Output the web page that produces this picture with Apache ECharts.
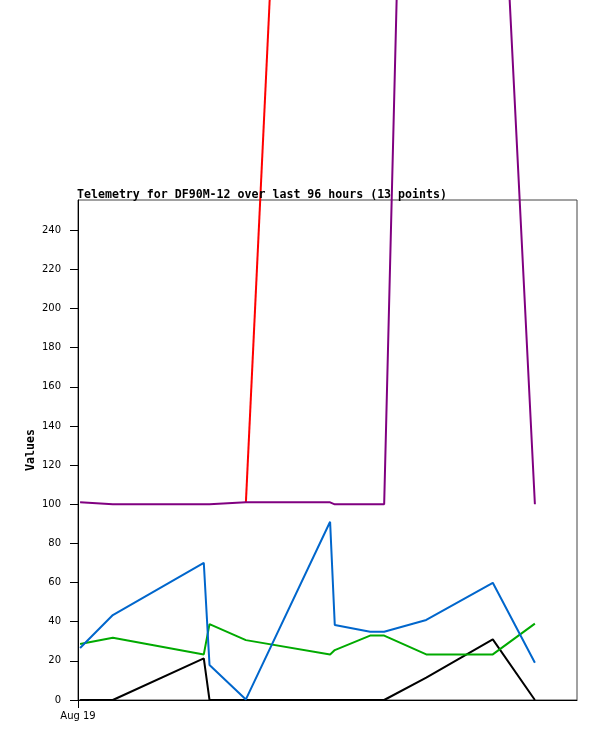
<!DOCTYPE html>
<html>
<head>
<meta charset="utf-8">
<script src="https://cdn.jsdelivr.net/npm/echarts@6/dist/echarts.min.js"></script>
<style>
html,body{margin:0;padding:0;background:#fff;}
#chart{width:597px;height:741px;}
</style>
</head>
<body>
<div id="chart"></div>
<script>
// hours since start of window (Aug 19)
var hours = [0.4, 6.7, 24.2, 25.3, 32.3, 48.5, 49.4, 56.2, 58.9, 67.0, 79.8, 87.9];
var blackValues  = [0, 0, 21.3, 0, 0, 0, 0, 0, 0, 11.4, 31.0, 0];
var greenValues  = [28.6, 31.8, 23.3, 38.8, 30.6, 23.3, 25.5, 32.9, 32.9, 23.3, 23.3, 39.0];
var blueValues   = [26.6, 43.4, 70.1, 17.9, 0.3, 91.1, 38.3, 34.9, 34.9, 40.9, 59.9, 19.0];
var redValues    = [null, null, null, null, 101, 1010, null, null, null, null, null, null];
var purpleValues = [101, 100, 100, 100, 101, 101, 100, 100, 100, 970, 530, 100];
var yTicks = [0, 20, 40, 60, 80, 100, 120, 140, 160, 180, 200, 220, 240];
var xTicks = [0];
var xTickLabels = ['Aug 19'];
var titleText = 'Telemetry for DF90M-12 over last 96 hours (13 points)';
var yName = 'Values';

function pairs(vals) {
  return hours.map(function (h, i) { return [h, vals[i]]; });
}
function lineSeries(name, vals, color) {
  return {
    name: name, type: 'line', data: pairs(vals), showSymbol: false, symbol: 'none',
    clip: false, connectNulls: false,
    lineStyle: { color: color, width: 2 }, itemStyle: { color: color }
  };
}

var chart = echarts.init(document.getElementById('chart'), null, { renderer: 'canvas' });
chart.setOption({
  animation: false,
  backgroundColor: '#fff',
  title: {
    text: titleText, left: 72, top: 184,
    textStyle: { fontFamily: 'DejaVu Sans Mono', fontWeight: 'bold', fontSize: 11.6, color: '#000', lineHeight: 12 }
  },
  graphic: [{
    type: 'text', x: 31, y: 450, rotation: Math.PI / 2,
    style: {
      text: yName, align: 'center', verticalAlign: 'middle',
      font: 'bold 11.6px "DejaVu Sans Mono"', fill: '#000'
    }
  }],
  grid: { left: 78, top: 200, right: 20, bottom: 41, show: true, borderColor: '#444', borderWidth: 1, backgroundColor: 'transparent' },
  xAxis: {
    type: 'value', min: 0, max: 96,
    axisLine: { show: true, lineStyle: { color: '#000', width: 1 } },
    axisTick: { show: true, length: 8, customValues: xTicks, lineStyle: { color: '#000' } },
    axisLabel: {
      customValues: xTicks, margin: 11,
      formatter: function (v) { var i = xTicks.indexOf(v); return i >= 0 ? xTickLabels[i] : ''; },
      fontFamily: 'DejaVu Sans', fontSize: 10, color: '#000'
    },
    splitLine: { show: false }
  },
  yAxis: {
    type: 'value', min: 0, max: 255.5,
    axisLine: { show: true, lineStyle: { color: '#000', width: 1 } },
    axisTick: { show: true, length: 8, customValues: yTicks, lineStyle: { color: '#000' } },
    axisLabel: { customValues: yTicks, margin: 17, fontFamily: 'DejaVu Sans', fontSize: 10, color: '#000' },
    splitLine: { show: false }
  },
  series: [
    lineSeries('black', blackValues, '#000000'),
    lineSeries('green', greenValues, '#00aa00'),
    lineSeries('blue', blueValues, '#0066cc'),
    lineSeries('red', redValues, '#ff0000'),
    lineSeries('purple', purpleValues, '#800080')
  ]
});
</script>
</body>
</html>
